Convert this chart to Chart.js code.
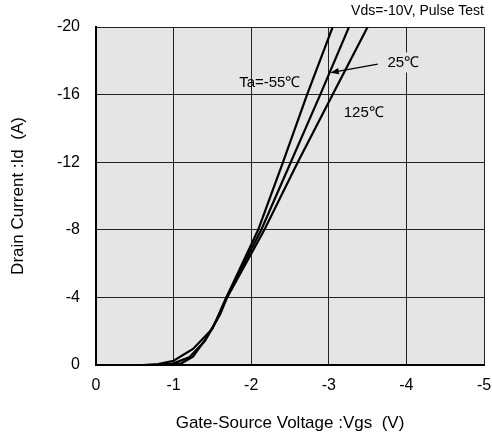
<!DOCTYPE html>
<html>
<head>
<meta charset="utf-8">
<script src="https://cdn.jsdelivr.net/npm/chart.js@4/dist/chart.umd.min.js"></script>
<style>
  html, body { margin: 0; padding: 0; background: #fff; }
  #wrap { width: 492px; height: 432px; }
</style>
</head>
<body>
<div id="wrap"><canvas id="idVgs" width="492" height="432"></canvas></div>
<script>
// Id-Vgs transfer curves, Vds=-10V, pulse test
const vgs55 = [0, -0.6, -0.8, -1.0, -1.25, -1.5, -1.68, -2.09, -2.41, -2.72, -3.05];
const id55  = [0, 0, -0.05, -0.25, -0.95, -2.15, -4.0, -8.0, -12.0, -16.0, -20.0];
const vgs25 = [0, -0.8, -1.0, -1.2, -1.4, -1.55, -1.68, -2.13, -2.51, -2.89, -3.26];
const id25  = [0, 0, -0.1, -0.45, -1.4, -2.6, -4.0, -8.0, -12.0, -16.0, -20.0];
const vgs125 = [0, -0.9, -1.1, -1.25, -1.43, -1.6, -1.69, -2.17, -2.6, -3.05, -3.5];
const id125  = [0, 0, -0.1, -0.5, -1.65, -3.0, -4.0, -8.0, -12.0, -16.0, -20.0];

const xTicks = [0, -1, -2, -3, -4, -5];
const yTicks = [0, -4, -8, -12, -16, -20];

const FONT = "'Liberation Sans', Arial, sans-serif";

function pts(xs, ys) {
    return xs.map((x, i) => ({ x: x, y: ys[i] }));
}

function curve(label, xs, ys) {
    return {
        label: label,
        data: pts(xs, ys),
        borderColor: '#000',
        borderWidth: 2.2,
        pointRadius: 0,
        tension: 0,
        fill: false
    };
}

// gray plot area behind the grid
const plotBg = {
    id: 'plotBg',
    beforeDraw(chart) {
        const { ctx, chartArea: a } = chart;
        ctx.save();
        ctx.fillStyle = '#e5e5e5';
        ctx.fillRect(a.left, a.top, a.right - a.left, a.bottom - a.top);
        ctx.restore();
    }
};

// temperature labels, arrow and test condition
const notes = {
    id: 'notes',
    afterDatasetsDraw(chart) {
        const { ctx, chartArea: a, scales: { x, y } } = chart;
        ctx.save();
        ctx.font = '15px ' + FONT;
        ctx.fillStyle = '#000';
        ctx.textBaseline = 'middle';

        function label(text, vx, vy, bg) {
            const px = x.getPixelForValue(vx), py = y.getPixelForValue(vy);
            const w = ctx.measureText(text).width;
            if (bg) {
                ctx.fillStyle = '#e5e5e5';
                ctx.fillRect(px - w / 2 - 3, py - 10, w + 6, 20);
                ctx.fillStyle = '#000';
            }
            ctx.textAlign = 'center';
            ctx.fillText(text, px, py);
        }
        label('Ta=-55\u2103', -2.24, -16.7, false);
        label('25\u2103', -3.96, -17.9, true);
        label('125\u2103', -3.45, -14.9, false);

        // arrow to the 25C curve
        const x0 = x.getPixelForValue(-3.63), y0 = y.getPixelForValue(-17.8);
        const x1 = x.getPixelForValue(-3.02), y1 = y.getPixelForValue(-17.3);
        const ang = Math.atan2(y1 - y0, x1 - x0);
        ctx.strokeStyle = '#000';
        ctx.lineWidth = 1.3;
        ctx.beginPath();
        ctx.moveTo(x0, y0);
        ctx.lineTo(x1 - 6 * Math.cos(ang), y1 - 6 * Math.sin(ang));
        ctx.stroke();
        ctx.beginPath();
        ctx.moveTo(x1, y1);
        ctx.lineTo(x1 - 9 * Math.cos(ang - 0.35), y1 - 9 * Math.sin(ang - 0.35));
        ctx.lineTo(x1 - 9 * Math.cos(ang + 0.35), y1 - 9 * Math.sin(ang + 0.35));
        ctx.closePath();
        ctx.fill();

        ctx.font = '14px ' + FONT;
        ctx.textAlign = 'right';
        ctx.textBaseline = 'middle';
        ctx.fillText('Vds=-10V, Pulse Test', a.right, a.top - 16);
        ctx.restore();
    }
};

new Chart(document.getElementById('idVgs'), {
    type: 'line',
    data: {
        datasets: [
            curve('Ta=-55C', vgs55, id55),
            curve('25C', vgs25, id25),
            curve('125C', vgs125, id125)
        ]
    },
    plugins: [plotBg, notes],
    options: {
        responsive: false,
        animation: false,
        layout: { padding: { top: 27, right: 8, left: 0, bottom: 0 } },
        plugins: {
            legend: { display: false },
            tooltip: { enabled: false }
        },
        scales: {
            x: {
                type: 'linear',
                min: -5,
                max: 0,
                reverse: true,
                afterFit(s) {
                    s.height = 67;
                    s.paddingLeft = 0;
                    s.paddingRight = 0;
                },
                afterBuildTicks(s) { s.ticks = xTicks.map(v => ({ value: v })); },
                ticks: { color: '#000', padding: 11, font: { family: FONT, size: 16 } },
                grid: { color: '#222', lineWidth: 1, drawTicks: false },
                border: { color: '#000', width: 2 },
                title: {
                    display: true,
                    text: 'Gate-Source Voltage :Vgs  (V)',
                    color: '#000',
                    font: { family: FONT, size: 17, lineHeight: 1 },
                    padding: 0
                }
            },
            y: {
                type: 'linear',
                min: -20,
                max: 0,
                reverse: true,
                afterFit(s) {
                    s.width = 96;
                    s.paddingTop = 0;
                    s.paddingBottom = 0;
                },
                afterBuildTicks(s) { s.ticks = yTicks.map(v => ({ value: v })); },
                ticks: { color: '#000', padding: 16, font: { family: FONT, size: 16 } },
                grid: { color: '#222', lineWidth: 1, drawTicks: false },
                border: { color: '#000', width: 2 },
                title: {
                    display: true,
                    text: 'Drain Current :Id  (A)',
                    color: '#000',
                    font: { family: FONT, size: 17 },
                    padding: { top: 8, bottom: 8 }
                }
            }
        }
    }
});
</script>
</body>
</html>
